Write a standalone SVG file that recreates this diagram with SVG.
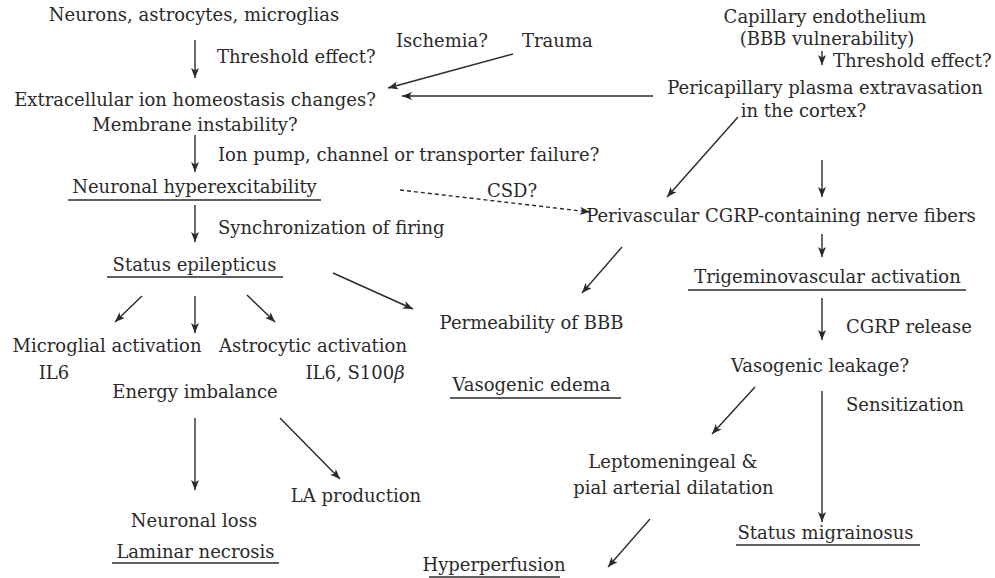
<svg xmlns="http://www.w3.org/2000/svg" width="995" height="578" viewBox="0 0 995 578">
<defs>
<style>
text{font-family:"DejaVu Serif","Liberation Serif",serif;font-size:18px;fill:#2a2a2a}
.m{text-anchor:middle}
.ul{stroke:#2a2a2a;stroke-width:1.5;fill:none}
.c line{stroke:#2a2a2a;stroke-width:1.4;fill:none}
.c .a{marker-end:url(#ah)}
.c .d{stroke-dasharray:4 3}
</style>
<marker id="ah" viewBox="0 0 10 8" refX="10" refY="4" markerWidth="10" markerHeight="8" orient="auto" markerUnits="userSpaceOnUse">
<path d="M0,0 L10,4 L0,8 L2.5,4 z" fill="#2a2a2a"/>
</marker>
</defs>
<rect width="995" height="578" fill="#fff"/>

<g id="n-neurons"><text class="m" x="194" y="21">Neurons, astrocytes, microglias</text></g>
<g id="n-ischemia"><text x="396" y="47">Ischemia?</text></g>
<g id="n-trauma"><text x="522" y="47">Trauma</text></g>
<g id="n-extracellular"><text class="m" x="195" y="106">Extracellular ion homeostasis changes?</text><text class="m" x="195" y="131">Membrane instability?</text></g>
<g id="n-hyperexcitability"><text class="m" x="194.5" y="193">Neuronal hyperexcitability</text><line class="ul" x1="68" y1="200" x2="321" y2="200"/></g>
<g id="n-status-epilepticus"><text class="m" x="194.5" y="271">Status epilepticus</text><line class="ul" x1="107" y1="277" x2="283" y2="277"/></g>
<g id="n-microglial"><text class="m" x="107" y="352">Microglial activation</text><text class="m" x="54" y="379">IL6</text></g>
<g id="n-astrocytic"><text class="m" x="313" y="352">Astrocytic activation</text><text class="m" x="355" y="379">IL6, S100<tspan font-style="italic">β</tspan></text></g>
<g id="n-energy"><text class="m" x="195" y="398">Energy imbalance</text></g>
<g id="n-la"><text class="m" x="356" y="502">LA production</text></g>
<g id="n-necrosis"><text class="m" x="194" y="527">Neuronal loss</text><text class="m" x="195.5" y="558">Laminar necrosis</text><line class="ul" x1="112" y1="563" x2="279" y2="563"/></g>
<g id="n-permeability"><text class="m" x="531.5" y="329">Permeability of BBB</text></g>
<g id="n-edema"><text class="m" x="531.5" y="391">Vasogenic edema</text><line class="ul" x1="450" y1="398" x2="621" y2="398"/></g>
<g id="n-hyperperfusion"><text class="m" x="494" y="571">Hyperperfusion</text><line class="ul" x1="429" y1="577" x2="560" y2="577"/></g>
<g id="n-capillary"><text class="m" x="825" y="23">Capillary endothelium</text><text class="m" x="827" y="45">(BBB vulnerability)</text></g>
<g id="n-pericapillary"><text class="m" x="825" y="94">Pericapillary plasma extravasation</text><text class="m" x="803.5" y="117">in the cortex?</text></g>
<g id="n-perivascular"><text class="m" x="781" y="222">Perivascular CGRP-containing nerve fibers</text></g>
<g id="n-trigeminovascular"><text class="m" x="827.5" y="283">Trigeminovascular activation</text><line class="ul" x1="688" y1="290" x2="966" y2="290"/></g>
<g id="n-leakage"><text class="m" x="820" y="372">Vasogenic leakage?</text></g>
<g id="n-dilatation"><text class="m" x="673" y="468">Leptomeningeal &amp;</text><text class="m" x="673.5" y="494">pial arterial dilatation</text></g>
<g id="n-migrainosus"><text class="m" x="825.5" y="539">Status migrainosus</text><line class="ul" x1="736" y1="545" x2="920" y2="545"/></g>

<g id="connectors" class="c">
<line class="a" x1="195" y1="40" x2="195" y2="78"/>
<line class="a" x1="513" y1="54" x2="388" y2="88"/>
<line class="a" x1="653" y1="96" x2="402" y2="96"/>
<line class="a" x1="195" y1="135" x2="195" y2="172"/>
<line class="a d" x1="400" y1="190" x2="590" y2="212"/>
<line class="a" x1="195" y1="205" x2="195" y2="242"/>
<line class="a" x1="142" y1="296" x2="115" y2="322"/>
<line class="a" x1="195" y1="296" x2="195" y2="333"/>
<line class="a" x1="247" y1="295" x2="275" y2="322"/>
<line class="a" x1="333" y1="273" x2="413" y2="309"/>
<line class="a" x1="195" y1="418" x2="195" y2="490"/>
<line class="a" x1="280" y1="418" x2="340" y2="479"/>
<line class="a" x1="822" y1="51" x2="822" y2="65"/>
<line class="a" x1="738" y1="117" x2="667" y2="197"/>
<line class="a" x1="822" y1="160" x2="822" y2="197"/>
<line class="a" x1="822" y1="234" x2="822" y2="257"/>
<line class="a" x1="622" y1="247" x2="582" y2="293"/>
<line class="a" x1="822" y1="298" x2="822" y2="340"/>
<line class="a" x1="755" y1="387" x2="712" y2="434"/>
<line class="a" x1="822" y1="391" x2="822" y2="522"/>
<line class="a" x1="650" y1="519" x2="608" y2="567"/>
</g>

<g id="labels">
<text x="217" y="63">Threshold effect?</text>
<text x="218" y="161">Ion pump, channel or transporter failure?</text>
<text x="487" y="197">CSD?</text>
<text x="218" y="234">Synchronization of firing</text>
<text x="833" y="67">Threshold effect?</text>
<text x="846" y="333">CGRP release</text>
<text x="846" y="411">Sensitization</text>
</g>
</svg>
